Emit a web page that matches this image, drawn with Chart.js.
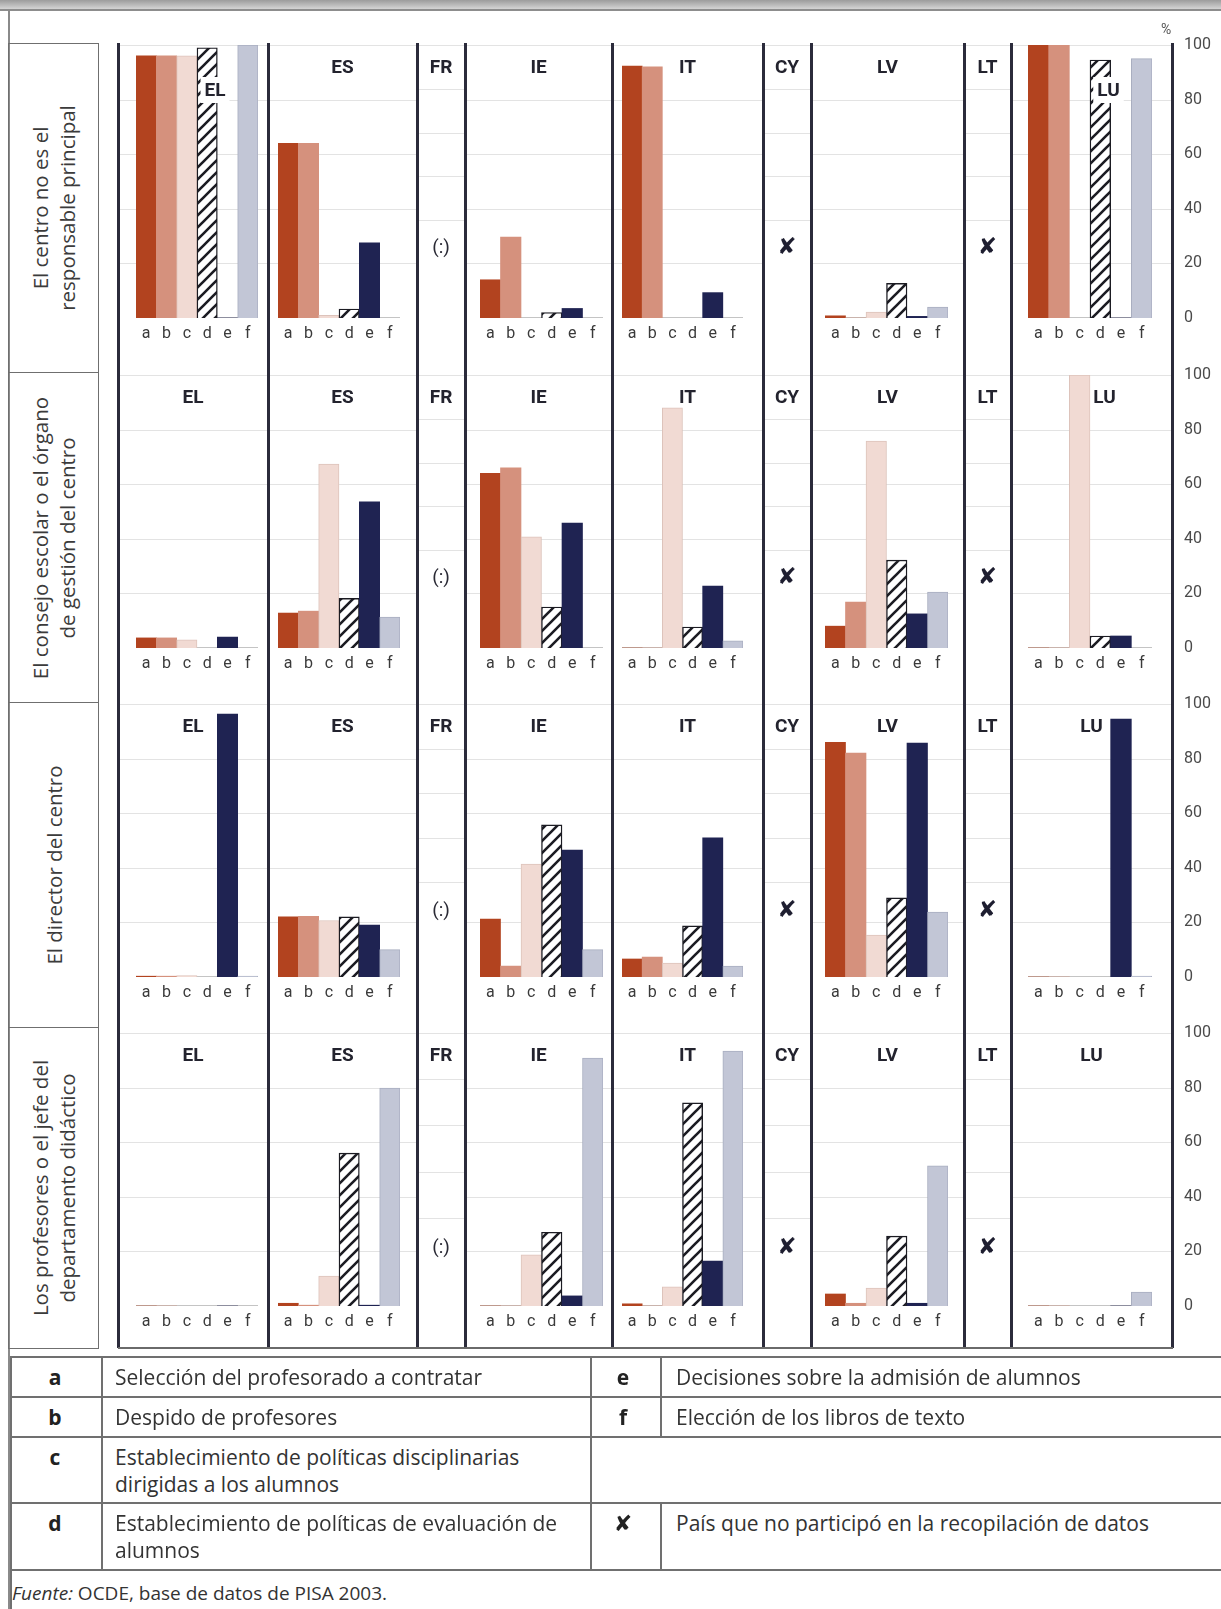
<!DOCTYPE html>
<html lang="es">
<head>
<meta charset="utf-8">
<title>Responsables de las decisiones en los centros – PISA 2003</title>
<script src="https://cdn.jsdelivr.net/npm/chart.js@4.4.1/dist/chart.umd.min.js"></script>
<style>
  html, body { margin: 0; padding: 0; background: #fff; }
  #fig { position: relative; width: 1221px; height: 1609px; overflow: hidden; background: #fff;
         font-family: "Open Sans", sans-serif; color: #333; }
  #fig canvas { position: absolute; display: block; }
  .ln { position: absolute; }
  .rowlab { position: absolute; box-sizing: border-box; }
  .rowlab .rot { position: absolute; left: 50%; top: 50%; text-align: center; white-space: nowrap;
                 font-size: 20.5px; line-height: 27px; color: #3b3b3b; transform: translate(-50%, -50%) rotate(-90deg); }
  .cell { position: absolute; font-size: 21px; line-height: 27px; color: #333; white-space: nowrap; }
  .key { position: absolute; font-size: 21px; line-height: 27px; font-weight: bold; color: #222; text-align: center; width: 40px; }
</style>
</head>
<body>
<div id="fig"></div>
<script>
// ---- categories and values -------------------------------------------------
const categories = ['a', 'b', 'c', 'd', 'e', 'f'];
const countries = ['EL', 'ES', 'FR', 'IE', 'IT', 'CY', 'LV', 'LT', 'LU'];

// % of pupils, one array per country (a..f); null = no data for the country
const centroNoResponsable = [
  [96, 96, 96, 99, 0, 100],          // EL
  [64, 64, 1, 3.3, 27.5, 0],         // ES
  null,                              // FR
  [14, 29.6, 0, 2, 3.5, 0],          // IE
  [92.3, 92, 0, 0, 9.3, 0],          // IT
  null,                              // CY
  [0.8, 0, 2.2, 12.7, 0.6, 4],       // LV
  null,                              // LT
  [100, 100, 0, 94.5, 0, 95]         // LU
];
const consejoEscolar = [
  [3.7, 3.7, 3, 0, 4, 0],
  [12.8, 13.5, 67.4, 18.2, 53.5, 11.3],
  null,
  [64, 66, 40.7, 15, 45.8, 0],
  [0, 0, 88, 7.7, 22.7, 2.6],
  null,
  [8, 16.8, 75.8, 32.2, 12.5, 20.5],
  null,
  [0, 0, 100, 4.4, 4.4, 0]
];
const directorCentro = [
  [0.3, 0.3, 0.5, 0, 96.3, 0.3],
  [22, 22.2, 20.7, 22, 19, 10],
  null,
  [21.2, 4, 41.4, 55.7, 46.5, 10],
  [6.6, 7.3, 5.1, 18.7, 51, 4],
  null,
  [86, 82, 15.4, 29, 85.7, 23.8],
  null,
  [0, 0, 0, 0, 94.5, 0.3]
];
const profesores = [
  [0, 0, 0, 0, 0, 0],
  [1, 0.3, 11, 56, 0.3, 79.8],
  null,
  [0, 0, 18.7, 27, 3.7, 90.8],
  [0.8, 0, 7, 74.4, 16.5, 93.4],
  null,
  [4.4, 1, 6.6, 25.6, 1, 51.3],
  null,
  [0, 0, 0, 0, 0, 5.1]
];
const rowSeries = [centroNoResponsable, consejoEscolar, directorCentro, profesores];

const rowLabels = [
  ['El centro no es el', 'responsable principal'],
  ['El consejo escolar o el órgano', 'de gestión del centro'],
  ['El director del centro'],
  ['Los profesores o el jefe del', 'departamento didáctico']
];
const missingMarks = { FR: '(:)', CY: '\u2718', LT: '\u2718' };
const yTicks = [0, 20, 40, 60, 80, 100];

const legendLeftKeys = ['a', 'b', 'c', 'd'];
const legendLeftTexts = [
  'Selección del profesorado a contratar',
  'Despido de profesores',
  'Establecimiento de políticas disciplinarias<br>dirigidas a los alumnos',
  'Establecimiento de políticas de evaluación de<br>alumnos'
];
const legendRightKeys = ['e', 'f', '', '\u2718'];
const legendRightTexts = [
  'Decisiones sobre la admisión de alumnos',
  'Elección de los libros de texto',
  '',
  'País que no participó en la recopilación de datos'
];

// ---- layout ------------------------------------------------------------------
const W = 1221;
const rowGeom = [
  { top: 43,   bottom: 372,  plotTop: 45,   plotBase: 318 },
  { top: 372,  bottom: 702,  plotTop: 375,  plotBase: 648 },
  { top: 702,  bottom: 1027, plotTop: 704,  plotBase: 977 },
  { top: 1027, bottom: 1348, plotTop: 1033, plotBase: 1306 }
];
const colGeom = [
  { L: 118,  R: 268,  padL: 18, padR: 10 },
  { L: 268,  R: 417,  padL: 10, padR: 17 },
  { L: 417,  R: 465 },
  { L: 465,  R: 612,  padL: 15, padR: 9 },
  { L: 612,  R: 763,  padL: 10, padR: 20 },
  { L: 763,  R: 811 },
  { L: 811,  R: 964,  padL: 14, padR: 16 },
  { L: 964,  R: 1011 },
  { L: 1011, R: 1172, padL: 17, padR: 20 }
];
// titles that sit lower / aside so they do not cover the tall bars
const titleShift = {
  '0-EL': { dx: 22, dy: 23, bg: true },
  '0-LU': { dx: 17, dy: 23, bg: true },
  '1-LU': { dx: 13, dy: 0 }
};
const AXIS_HEAD = 16;   // extra room above the value axis for the "100" label

const NARROW = '"Liberation Sans Narrow", Roboto, sans-serif';
Chart.defaults.font.family = NARROW;

const fig = document.getElementById('fig');

function makeHatch() {
  const s = 12;
  const p = document.createElement('canvas');
  p.width = s; p.height = s;
  const c = p.getContext('2d');
  c.fillStyle = '#ffffff';
  c.fillRect(0, 0, s, s);
  c.strokeStyle = '#1b1b22';
  c.lineWidth = 2.6;
  c.beginPath();
  c.moveTo(-2, s + 2); c.lineTo(s + 2, -2);
  c.moveTo(-2, 2); c.lineTo(2, -2);
  c.moveTo(s - 2, s + 2); c.lineTo(s + 2, s - 2);
  c.stroke();
  return c.createPattern(p, 'repeat');
}
const hatch = makeHatch();
const barFill   = ['#b2431f', '#d5917d', '#f1dad3', hatch, '#1f2352', '#c2c6d6'];
const barStroke = ['#b2431f', '#d5917d', '#ddc3bb', '#1b1b22', '#1f2352', '#a9aec0'];
const barStrokeW = [0, 0, 1, 1.4, 0, 1];

const panelDecor = {
  id: 'panelDecor',
  beforeDatasetsDraw(chart, args, o) {
    const y = chart.scales.y, ctx = chart.ctx, a = chart.chartArea;
    ctx.save();
    ctx.lineWidth = 1;
    ctx.strokeStyle = '#e3e3e3';
    yTicks.forEach(v => {
      if (v === 0) return;
      const py = Math.round(y.getPixelForValue(v)) + 0.5;
      ctx.beginPath(); ctx.moveTo(0, py); ctx.lineTo(o.gridW, py); ctx.stroke();
    });
    if (o.hasData) {
      const py = Math.round(y.getPixelForValue(0)) - 0.5;
      ctx.strokeStyle = '#c4c4c4';
      ctx.beginPath(); ctx.moveTo(a.left, py); ctx.lineTo(a.right, py); ctx.stroke();
    }
    ctx.restore();
  },
  afterDraw(chart, args, o) {
    const ctx = chart.ctx, y = chart.scales.y;
    ctx.save();
    const cx = o.gridW / 2 + (o.shift ? o.shift.dx : 0);
    const cy = y.getPixelForValue(100) + 22 + (o.shift ? o.shift.dy : 0);
    ctx.font = 'bold 19px ' + NARROW;
    ctx.textAlign = 'center';
    ctx.textBaseline = 'middle';
    if (o.shift && o.shift.bg) {
      const tw = ctx.measureText(o.title).width;
      ctx.fillStyle = '#ffffff';
      ctx.fillRect(cx - tw / 2 - 4, cy - 13, tw + 8, 26);
    }
    ctx.fillStyle = '#23232e';
    ctx.fillText(o.title, cx, cy + 1);
    if (o.mark) {
      const my = y.getPixelForValue(0) - 16;
      if (o.mark === '(:)') {
        ctx.font = '19px ' + NARROW;
        ctx.fillStyle = '#2a2a35';
      } else {
        ctx.font = '23px "DejaVu Sans", sans-serif';
        ctx.fillStyle = '#1e1e30';
      }
      ctx.fillText(o.mark, o.gridW / 2, my);
    }
    ctx.restore();
  }
};

function makePanel(r, c) {
  const g = rowGeom[r], k = colGeom[c];
  const code = countries[c];
  const values = rowSeries[r][c];
  const hasData = values !== null;
  const isLast = c === countries.length - 1;
  const head = isLast ? AXIS_HEAD : 0;
  const cw = (isLast ? W : k.R) - k.L;
  const ch = g.bottom - g.top + head;
  const cv = document.createElement('canvas');
  cv.width = cw; cv.height = ch;
  cv.style.left = k.L + 'px';
  cv.style.top = (g.top - head) + 'px';
  fig.appendChild(cv);
  const barEnd = k.R - (k.padR || 0);

  const yScale = {
    min: 0, max: 100,
    display: isLast,
    position: 'right',
    grid: { display: false, drawTicks: false },
    border: { display: false },
    ticks: { stepSize: 20, padding: 32, color: '#4a4a4a', font: { size: 16 } }
  };
  if (isLast) {
    yScale.afterFit = s => { s.width = W - barEnd; s.paddingTop = 0; s.paddingBottom = 0; };
  }

  new Chart(cv, {
    type: 'bar',
    data: {
      labels: hasData ? categories : [],
      datasets: hasData ? [{
        data: values,
        backgroundColor: barFill,
        borderColor: barStroke,
        borderWidth: barStrokeW,
        barPercentage: 1,
        categoryPercentage: 1
      }] : []
    },
    options: {
      responsive: false,
      animation: false,
      devicePixelRatio: 1,
      events: [],
      layout: {
        padding: {
          left: hasData ? k.padL : 0,
          right: hasData ? (isLast ? 0 : k.padR) : 0,
          top: g.plotTop - g.top + head,
          bottom: hasData ? 0 : g.bottom - g.plotBase
        }
      },
      plugins: {
        legend: { display: false },
        tooltip: { enabled: false },
        panelDecor: { gridW: k.R - k.L, hasData, title: code, mark: missingMarks[code] || null,
                      shift: titleShift[r + '-' + code] || null }
      },
      scales: {
        x: {
          display: hasData,
          grid: { display: false, drawTicks: false },
          border: { display: false },
          ticks: { padding: 6, color: '#3a3a3a', font: { size: 16 }, autoSkip: false, maxRotation: 0 },
          afterFit: s => { s.height = g.bottom - g.plotBase; s.paddingLeft = 0; s.paddingRight = 0; }
        },
        y: yScale
      }
    },
    plugins: [panelDecor]
  });
}

for (let r = 0; r < rowGeom.length; r++) {
  for (let c = 0; c < countries.length; c++) makePanel(r, c);
}

// ---- frame, separators, row captions, key ----------------------------------------
function box(x, y, w, h, style) {
  const d = document.createElement('div');
  d.className = 'ln';
  d.style.left = x + 'px'; d.style.top = y + 'px';
  d.style.width = w + 'px'; d.style.height = h + 'px';
  Object.assign(d.style, style || {});
  fig.appendChild(d);
  return d;
}
// top band and outer frame
box(0, 0, W, 9, { background: 'linear-gradient(#9c9c9c, #d4d4d4)' });
box(0, 9, W, 2, { background: '#8d8d8d' });
box(8, 10, 1.5, 1599, { background: '#8a8a8a' });

// panel separators
colGeom.forEach(k => box(k.L - 1, 43, 2.5, 1305, { background: '#2b2b3b' }));
box(1171, 43, 2.5, 1305, { background: '#2b2b3b' });
box(118, 1347, 1055, 1.5, { background: '#6a6a6a' });

// unit sign
const pct = box(1161, 21, 20, 18, {});
pct.textContent = '%';
Object.assign(pct.style, { font: '14px ' + NARROW, color: '#555' });

// row captions
rowGeom.forEach((g, i) => {
  const d = document.createElement('div');
  d.className = 'rowlab';
  Object.assign(d.style, { left: '8px', top: g.top + 'px', width: '91px', height: (g.bottom - g.top + 1) + 'px',
                           border: '1.5px solid #6f6f6f' });
  const t = document.createElement('div');
  t.className = 'rot';
  t.innerHTML = rowLabels[i].join('<br>');
  d.appendChild(t);
  fig.appendChild(d);
});

// key table
const keyRows = [1357, 1397, 1437, 1503, 1570];
keyRows.forEach(y => box(10, y - 1, W - 10, 1.5, { background: '#707070' }));
box(10, 1356, 1.5, 253, { background: '#707070' });
box(101, 1356, 1.5, 215, { background: '#707070' });
box(590, 1356, 1.5, 215, { background: '#707070' });
box(660, 1356, 1.5, 81, { background: '#707070' });
box(660, 1503, 1.5, 68, { background: '#707070' });

for (let i = 0; i < 4; i++) {
  const firstLine = keyRows[i] + 7;
  const k = document.createElement('div');
  k.className = 'key';
  k.style.left = '35px'; k.style.top = firstLine + 'px';
  k.textContent = legendLeftKeys[i];
  fig.appendChild(k);
  const t = document.createElement('div');
  t.className = 'cell';
  t.style.left = '115px'; t.style.top = firstLine + 'px';
  t.innerHTML = legendLeftTexts[i];
  fig.appendChild(t);
  if (legendRightKeys[i]) {
    const k2 = document.createElement('div');
    k2.className = 'key';
    k2.style.left = '603px'; k2.style.top = firstLine + 'px';
    if (legendRightKeys[i] === '\u2718') {
      k2.style.fontFamily = '"DejaVu Sans", sans-serif';
      k2.style.fontWeight = 'normal';
      k2.style.fontSize = '22px';
    }
    k2.textContent = legendRightKeys[i];
    fig.appendChild(k2);
    const t2 = document.createElement('div');
    t2.className = 'cell';
    t2.style.left = '676px'; t2.style.top = firstLine + 'px';
    t2.innerHTML = legendRightTexts[i];
    fig.appendChild(t2);
  }
}
const src = document.createElement('div');
src.className = 'cell';
src.style.left = '12px'; src.style.top = '1580px';
src.style.fontSize = '19px';
src.innerHTML = '<i>Fuente:</i> OCDE, base de datos de PISA 2003.';
fig.appendChild(src);
</script>
</body>
</html>
